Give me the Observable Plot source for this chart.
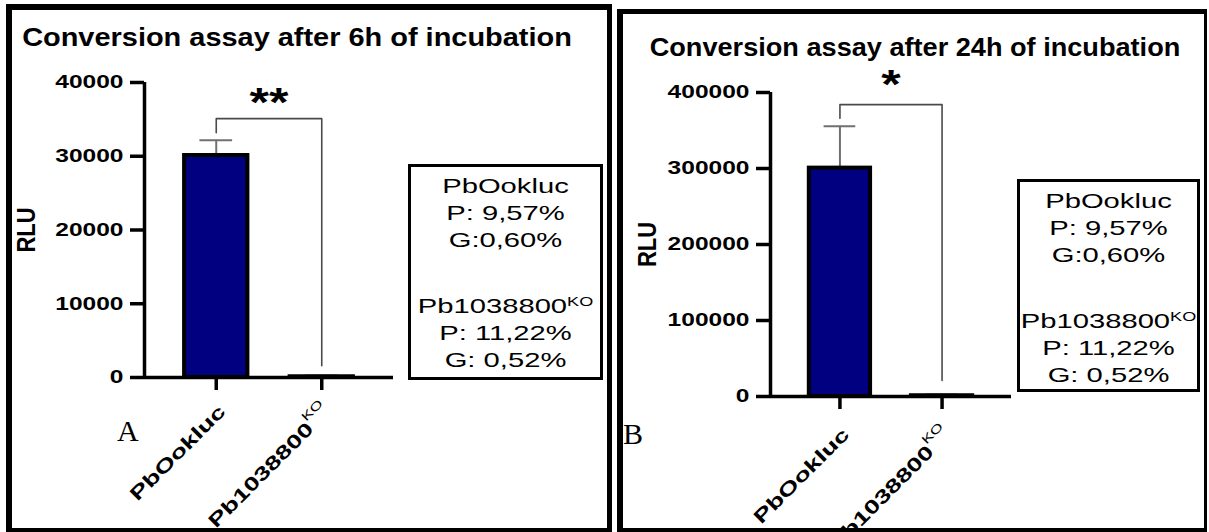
<!DOCTYPE html>
<html>
<head>
<meta charset="utf-8">
<script src="https://cdn.jsdelivr.net/npm/d3@7"></script>
<script src="https://cdn.jsdelivr.net/npm/@observablehq/plot@0.6"></script>
<style>
  body { margin: 0; background: #fff; }
  #page { position: relative; width: 1209px; height: 532px; overflow: hidden; background: #fff;
          font-family: 'Liberation Sans', Arial, sans-serif; color: #000; }
  .abs { position: absolute; white-space: nowrap; line-height: 1; }
  .chart { position: absolute; top: 0; }
  .panel { position: absolute; box-sizing: border-box; border-style: solid; border-color: #000; pointer-events: none; }
  .box { position: absolute; box-sizing: border-box; border: 3px solid #000; background: #fff; text-align: center; padding-top: 5px; }
  .box .ln { height: 27px; line-height: 27px; font-size: 21px; white-space: nowrap; transform: scaleX(1.39); }
  .box .gap { height: 39px; }
  .box sup { font-size: 13px; vertical-align: 7px; line-height: 0; }
</style>
</head>
<body>
<div id="page"></div>
<script>
// Strains compared in both assays
const strains = ["PbOokluc", "Pb1038800"];
const strainSup = ["", "KO"];

// Luminescence after 6 h of incubation (mean and SD, RLU)
const rlu6h = [30100, 100];
const sd6h = [2080, 170];
const yTicks6h = [0, 10000, 20000, 30000, 40000];
const sig6h = {label: "**", level: 35100, leftEnd: 33200, rightEnd: 1600};

// Luminescence after 24 h of incubation (mean and SD, RLU)
const rlu24h = [300500, 1000];
const sd24h = [55000, 1600];
const yTicks24h = [0, 100000, 200000, 300000, 400000];
const sig24h = {label: "*", level: 384000, leftEnd: 366000, rightEnd: 21000};

// Panel texts
const titles = ["Conversion assay after 6h of incubation", "Conversion assay after 24h of incubation"];
const panelLetters = ["A", "B"];
const yLabel = "RLU";
const prevalenceLines = ["P: 9,57%", "P: 11,22%"];
const gametocyteLines = ["G:0,60%", "G: 0,52%"];

const FONT = "'Liberation Sans', Arial, sans-serif";
const xDomain = [-0.68, 1.68];

const num = v => { const n = parseFloat(v); return (v && !/em$/.test(v) && isFinite(n)) ? n : 0; };

// Widen a set of text elements around their own anchor point
function stretch(texts, sx, sy = 1) {
  texts.forEach(t => {
    const ax = num(t.getAttribute("x")), ay = num(t.getAttribute("y"));
    const tr = t.getAttribute("transform") || "";
    t.setAttribute("transform", `${tr} translate(${ax},${ay}) scale(${sx},${sy}) translate(${-ax},${-ay})`);
  });
}

function drawPanel({values, errors, ticks, yMax, sig, L}) {
  const rows = strains.map((name, i) => ({i, name, sup: strainSup[i], value: values[i], err: errors[i]}));
  const bracket = [
    {x: 0, y: sig.leftEnd}, {x: 0, y: sig.level}, {x: 1, y: sig.level}, {x: 1, y: sig.rightEnd}
  ];
  const svg = Plot.plot({
    width: L.width, height: L.height,
    marginLeft: L.left, marginRight: L.right, marginTop: L.top, marginBottom: L.bottom,
    x: {domain: xDomain},
    y: {domain: [0, yMax]},
    style: {background: "transparent", fontFamily: FONT, fontWeight: "bold", overflow: "visible", maxWidth: "none"},
    marks: [
      Plot.axisY({ticks, tickSize: 14, tickPadding: 7, tickFormat: d => String(d), fontSize: 18.6,
                  strokeWidth: 3.5, label: null}),
      Plot.axisX({ticks: [0, 1], tickSize: 13, strokeWidth: 3.5, tickFormat: () => "", label: null}),
      // error bars (mean + SD)
      Plot.ruleX(rows, {x: "i", y1: "value", y2: d => d.value + d.err, stroke: "#707070", strokeWidth: 2}),
      Plot.ruleY(rows, {y: d => d.value + d.err, x1: d => d.i - 0.155, x2: d => d.i + 0.155,
                        stroke: "#707070", strokeWidth: 2}),
      Plot.rect(rows, {x1: d => d.i - 0.3, x2: d => d.i + 0.3, y1: 0, y2: "value",
                       fill: "#000080", stroke: "#000", strokeWidth: 4}),
      // axis lines
      Plot.ruleX([xDomain[0]], {stroke: "#000", strokeWidth: 3.5}),
      Plot.ruleY([0], {stroke: "#000", strokeWidth: 3.5}),
      // significance bracket
      Plot.line(bracket, {x: "x", y: "y", stroke: "#4a4a4a", strokeWidth: 1.6}),
      Plot.text([sig], {x: 0.5, y: "level", text: "label", dy: L.starDy, fontSize: 40}),
      // category labels
      Plot.text(rows, {x: "i", frameAnchor: "bottom", text: "name", rotate: -45, textAnchor: "end",
                       lineAnchor: "middle", dx: L.labelDx, dy: L.labelDy, fontSize: 19}),
      Plot.text([yLabel], {frameAnchor: "left", text: d => d, rotate: -90, textAnchor: "middle",
                           lineAnchor: "middle", dx: L.rluDx, fontSize: 22})
    ]
  });
  return {svg, rows, ticks, sig};
}

function finishPanel({svg, rows, ticks, sig}) {
  const all = Array.from(svg.querySelectorAll("text"));
  const byText = list => all.filter(t => list.includes(t.textContent));
  const tickTexts = byText(ticks.map(String));
  const labelTexts = byText(strains);
  const starTexts = byText([sig.label]);
  const rluTexts = byText([yLabel]);
  labelTexts.forEach(t => {
    const k = strains.indexOf(t.textContent);
    const sup = strainSup[k];
    if (!sup) return;
    const ts = document.createElementNS("http://www.w3.org/2000/svg", "tspan");
    ts.setAttribute("dy", "-1em");
    ts.setAttribute("font-size", 12);
    ts.setAttribute("font-weight", "normal");
    ts.textContent = sup;
    t.appendChild(ts);
  });
  stretch(tickTexts, 1.32);
  stretch(labelTexts, 1.42);
  stretch(rluTexts, 1, 1.14);
  stretch(starTexts, 1.25);
}

const page = document.getElementById("page");

const panels = [
  {values: rlu6h, errors: sd6h, ticks: yTicks6h, yMax: 40000, sig: sig6h, pageLeft: 0,
   L: {width: 610, height: 532, left: 144, right: 217, top: 82, bottom: 155,
       labelDx: 6, labelDy: 31, rluDx: -118, starDy: -15},
   title: {cx: 297, base: 46, sx: 1.157},
   letter: {x: 117, base: 441},
   box: {left: 408, top: 164, width: 195, height: 216},
   frame: {left: 6, top: 4, width: 606, height: 528, bw: "6px 5px 4px 6px"}},
  {values: rlu24h, errors: sd24h, ticks: yTicks24h, yMax: 400000, sig: sig24h, pageLeft: 612,
   L: {width: 597, height: 532, left: 158, right: 198, top: 92, bottom: 136,
       labelDx: 6, labelDy: 35, rluDx: -123, starDy: -19},
   title: {cx: 915, base: 56, sx: 1.085},
   letter: {x: 623, base: 444},
   box: {left: 1017, top: 179, width: 183, height: 213},
   frame: {left: 617, top: 9, width: 590, height: 523, bw: "5px 3px 4px 6px"}}
];

panels.forEach((p, k) => {
  const holder = document.createElement("div");
  holder.className = "chart";
  holder.style.left = p.pageLeft + "px";
  holder.style.width = p.L.width + "px";
  page.appendChild(holder);
  const drawn = drawPanel(p);
  holder.appendChild(drawn.svg);
  finishPanel(drawn);

  // title
  const t = document.createElement("div");
  t.className = "abs";
  t.textContent = titles[k];
  Object.assign(t.style, {left: p.title.cx + "px", top: (p.title.base - 0.8465 * 25) + "px",
    fontSize: "25px", fontWeight: "bold", transform: `translateX(-50%) scaleX(${p.title.sx})`});
  page.appendChild(t);

  // panel letter
  const a = document.createElement("div");
  a.className = "abs";
  a.textContent = panelLetters[k];
  Object.assign(a.style, {left: p.letter.x + "px", top: (p.letter.base - 0.8375 * 30) + "px",
    fontSize: "30px", fontFamily: "'Liberation Serif', 'Times New Roman', serif"});
  page.appendChild(a);

  // infection summary box
  const b = document.createElement("div");
  b.className = "box";
  Object.assign(b.style, {left: p.box.left + "px", top: p.box.top + "px",
    width: p.box.width + "px", height: p.box.height + "px"});
  strains.forEach((name, i) => {
    if (i > 0) {
      const g = document.createElement("div");
      g.className = "gap";
      b.appendChild(g);
    }
    const n = document.createElement("div");
    n.className = "ln";
    n.textContent = name;
    if (strainSup[i]) {
      const s = document.createElement("sup");
      s.textContent = strainSup[i];
      n.appendChild(s);
    }
    b.appendChild(n);
    [prevalenceLines[i], gametocyteLines[i]].forEach(txt => {
      const d = document.createElement("div");
      d.className = "ln";
      d.textContent = txt;
      b.appendChild(d);
    });
  });
  page.appendChild(b);

  // panel frame
  const f = document.createElement("div");
  f.className = "panel";
  Object.assign(f.style, {left: p.frame.left + "px", top: p.frame.top + "px",
    width: p.frame.width + "px", height: p.frame.height + "px", borderWidth: p.frame.bw});
  page.appendChild(f);
});
</script>
</body>
</html>
